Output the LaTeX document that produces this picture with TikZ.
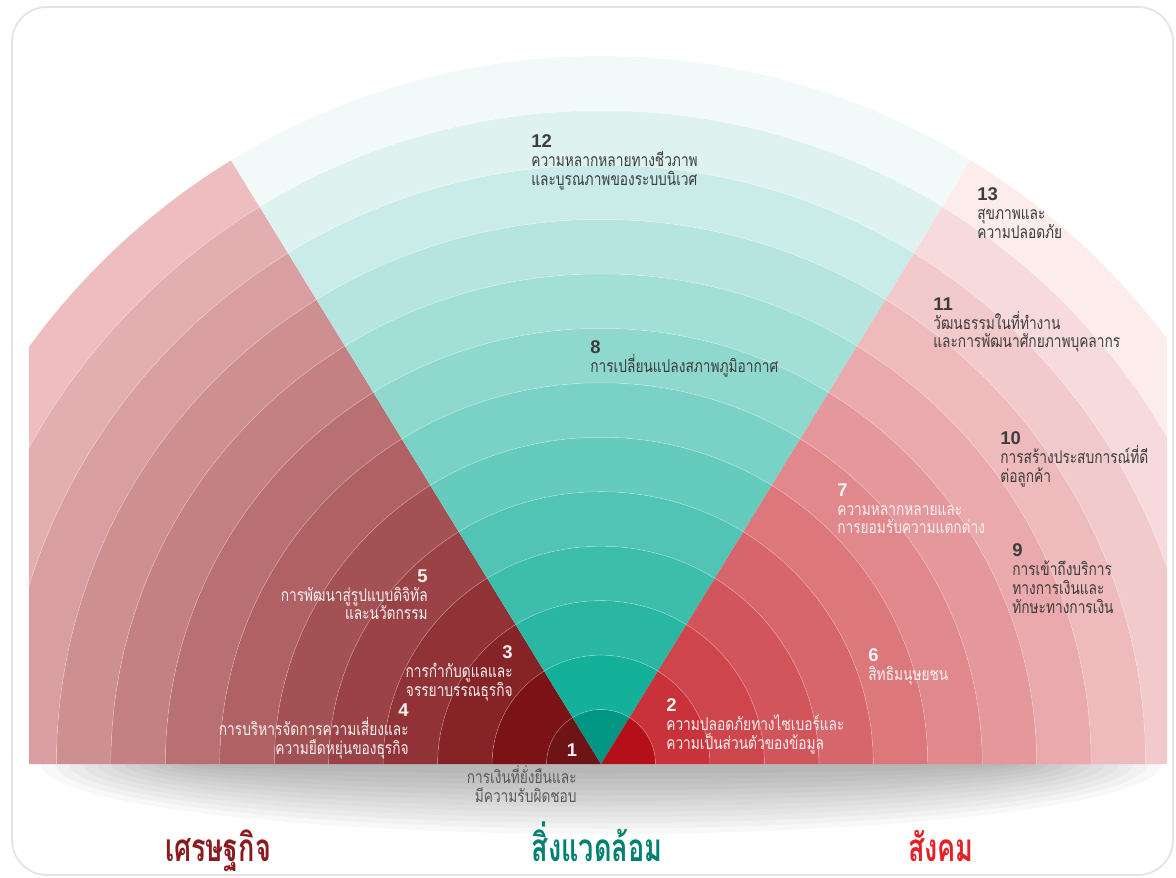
\documentclass[tikz,border=0pt]{standalone}
\usepackage{fontspec}
\usepackage{xcolor}
\usetikzlibrary{positioning}
\newfontfamily\thaifont[Script=Thai,FakeStretch=0.78]{Loma}
\newfontfamily\headfont[Script=Thai,FakeStretch=0.7]{Loma}
\newfontfamily\numfont{Liberation Sans}

\definecolor{ecoIn}{HTML}{6E1316}
\definecolor{ecoA}{HTML}{7A1216}
\definecolor{ecoOut}{HTML}{EDBDBF}
\definecolor{envIn}{HTML}{009683}
\definecolor{envA}{HTML}{13B09A}
\definecolor{envOut}{HTML}{F2F9F9}
\definecolor{socIn}{HTML}{B50F19}
\definecolor{socA}{HTML}{C9323A}
\definecolor{socOut}{HTML}{FCECEC}
\definecolor{ecoHead}{HTML}{8B1A1F}
\definecolor{envHead}{HTML}{00806E}
\definecolor{socHead}{HTML}{E52027}
\definecolor{lblGray}{HTML}{3D3D3D}
\definecolor{lblWhite}{HTML}{FDF2F2}

\newcommand{\ringno}[1]{{\numfont\bfseries\fontsize{10.5}{10.8}\selectfont #1}}

\tikzset{
  lbl/.style={font=\thaifont\fontsize{10}{10.8}\selectfont, inner sep=0pt},
  lblL/.style={lbl, anchor=north west, align=left},
  lblR/.style={lbl, anchor=north east, align=right},
  head/.style={font=\headfont\bfseries\fontsize{22}{24}\selectfont, inner sep=0pt, anchor=base},
}

\begin{document}
\begin{tikzpicture}[x=0.02cm, y=0.02cm]
\useasboundingbox (0,0) rectangle (1176,877);

% Frame
\draw[gray!22, line width=1, rounded corners=0.7cm] (12,2) rectangle (1173,870);

\begin{scope}[shift={(601,113)}]
% Soft shadow under the fan
\foreach \i in {0,...,11} {
    \fill[black, opacity=0.028] (-560+\i*14,0)
        arc[start angle=180, end angle=360, x radius=560-\i*14, y radius=70-\i*5.5] -- cycle;
}

\clip (-572,0) rectangle (566,764);
% Draw the 13 rings of the three sectors
\foreach \k in {1,...,13} {
    \pgfmathsetmacro{\rin}{(\k-1)*54.46}
    \pgfmathsetmacro{\rout}{\k*54.46}
    \pgfmathtruncatemacro{\p}{100-(\k-2)*100/11}
    \ifnum\k=1
        \colorlet{ecoRing}{ecoIn}\colorlet{envRing}{envIn}\colorlet{socRing}{socIn}
    \else
        \colorlet{ecoRing}{ecoA!\p!ecoOut}\colorlet{envRing}{envA!\p!envOut}\colorlet{socRing}{socA!\p!socOut}
    \fi
    \fill[ecoRing] (121.5:\rout) arc[start angle=121.5, end angle=180, radius=\rout]
        -- (180:\rin) arc[start angle=180, end angle=121.5, radius=\rin] -- cycle;
    \fill[envRing] (58.5:\rout) arc[start angle=58.5, end angle=121.5, radius=\rout]
        -- (121.5:\rin) arc[start angle=121.5, end angle=58.5, radius=\rin] -- cycle;
    \fill[socRing] (0:\rout) arc[start angle=0, end angle=58.5, radius=\rout]
        -- (58.5:\rin) arc[start angle=58.5, end angle=0, radius=\rin] -- cycle;
}
% Thin lines between the rings
\foreach \k in {1,...,12} {
    \draw[white, opacity=0.25, line width=0.4pt] (0:\k*54.46) arc[start angle=0, end angle=180, radius=\k*54.46];
}
\end{scope}

% Topic labels
\node[lbl, text=lblWhite] (n1) at (572,127) {\ringno{1}};
\node[lblR, text=lblGray!85] (l1) at (577,112) {การเงินที่ยั่งยืนและ\\มีความรับผิดชอบ};
\node[lblL, text=lblWhite] (l2) at (666,179) {\ringno{2}\\ความปลอดภัยทางไซเบอร์และ\\ความเป็นส่วนตัวของข้อมูล};
\node[lblR, text=lblWhite] (l3) at (513,232) {\ringno{3}\\การกำกับดูแลและ\\จรรยาบรรณธุรกิจ};
\node[lblR, text=lblWhite] (l4) at (409,174) {\ringno{4}\\การบริหารจัดการความเสี่ยงและ\\ความยืดหยุ่นของธุรกิจ};
\node[lblR, text=lblWhite] (l5) at (428,308) {\ringno{5}\\การพัฒนาสู่รูปแบบดิจิทัล\\และนวัตกรรม};
\node[lblL, text=lblWhite] (l6) at (868,229) {\ringno{6}\\สิทธิมนุษยชน};
\node[lblL, text=lblWhite] (l7) at (837,394) {\ringno{7}\\ความหลากหลายและ\\การยอมรับความแตกต่าง};
\node[lblL, text=lblGray] (l8) at (590,537) {\ringno{8}\\การเปลี่ยนแปลงสภาพภูมิอากาศ};
\node[lblL, text=lblGray] (l9) at (1012,334) {\ringno{9}\\การเข้าถึงบริการ\\ทางการเงินและ\\ทักษะทางการเงิน};
\node[lblL, text=lblGray] (l10) at (1000,446) {\ringno{10}\\การสร้างประสบการณ์ที่ดี\\ต่อลูกค้า};
\node[lblL, text=lblGray] (l11) at (933,580) {\ringno{11}\\วัฒนธรรมในที่ทำงาน\\และการพัฒนาศักยภาพบุคลากร};
\node[lblL, text=lblGray] (l12) at (531,743) {\ringno{12}\\ความหลากหลายทางชีวภาพ\\และบูรณภาพของระบบนิเวศ};
\node[lblL, text=lblGray] (l13) at (977,690) {\ringno{13}\\สุขภาพและ\\ความปลอดภัย};

% Sector headings
\node[head, text=ecoHead] (hEco) at (218,16) {เศรษฐกิจ};
\node[head, text=envHead] (hEnv) at (597,16) {สิ่งแวดล้อม};
\node[head, text=socHead] (hSoc) at (941,16) {สังคม};

\end{tikzpicture}
\end{document}
